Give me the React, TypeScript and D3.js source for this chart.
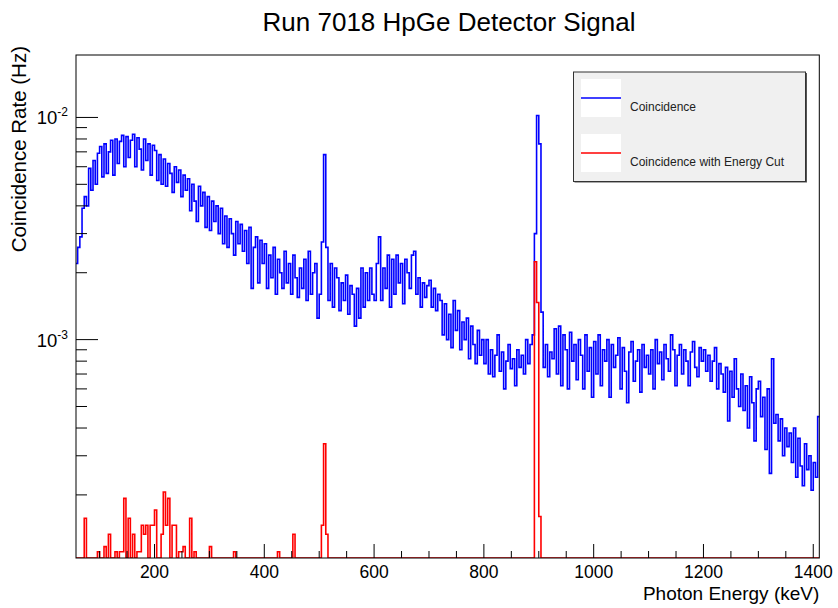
import { useEffect, useRef } from "react";
import * as d3 from "d3";

// histogram binning (keV)
const BIN_START = 56;
const BIN_WIDTH = 4;

// Coincidence rate, units of 1e-3 Hz, one array per 100 keV block
const COINC_056 = [2.2, 2.6, 2.9, 3.9, 4.4, 4.0, 5.9, 4.7, 6.4, 5.0, 6.9];
const COINC_100 = [7.4, 5.4, 7.6, 5.6, 7.0, 7.9, 5.5, 8.0, 6.2, 7.8, 8.3, 6.0, 8.2, 6.6, 7.9, 8.4, 6.0, 8.1, 7.2, 5.8, 8.0, 6.4, 7.6, 5.5, 7.5];
const COINC_200 = [7.1, 5.2, 6.8, 5.0, 6.5, 4.9, 6.2, 5.6, 4.6, 6.0, 5.1, 5.8, 4.4, 5.5, 4.7, 5.3, 3.8, 5.0, 4.2, 3.4, 4.9, 4.0, 4.6, 3.2, 4.4];
const COINC_300 = [3.1, 4.2, 3.4, 4.0, 3.0, 3.9, 2.7, 3.6, 2.6, 3.5, 3.0, 2.4, 3.4, 2.7, 3.3, 2.5, 3.1, 2.2, 3.2, 1.7, 2.6, 2.9, 1.8, 2.8, 2.2];
const COINC_400 = [2.7, 1.7, 2.4, 1.9, 2.6, 1.6, 2.3, 2.0, 1.7, 2.5, 1.8, 2.2, 1.6, 2.4, 1.9, 1.55, 2.1, 1.7, 2.3, 1.5, 2.5, 1.6, 2.0, 2.2, 1.25];
const COINC_500 = [1.6, 2.75, 6.8, 2.6, 1.5, 2.2, 1.4, 2.1, 1.9, 1.35, 1.8, 1.5, 1.95, 1.3, 1.75, 1.6, 1.15, 1.7, 1.25, 2.1, 1.4, 2.0, 1.5, 2.1, 1.6];
const COINC_600 = [1.5, 2.2, 2.9, 1.5, 2.1, 1.7, 2.4, 1.4, 2.3, 1.6, 2.4, 1.8, 2.2, 1.45, 2.3, 2.0, 1.7, 2.4, 2.5, 1.6, 1.9, 1.4, 1.8, 1.55, 1.75];
const COINC_700 = [1.85, 1.4, 1.7, 1.35, 1.6, 1.5, 1.05, 1.45, 1.0, 1.3, 0.92, 1.5, 1.1, 1.35, 0.9, 1.2, 1.0, 1.25, 0.82, 1.15, 0.95, 0.78, 1.1, 0.85, 1.0];
const COINC_800 = [0.78, 1.0, 0.7, 0.9, 0.68, 0.85, 1.05, 0.72, 0.88, 0.6, 0.8, 0.95, 0.74, 0.82, 0.62, 0.9, 0.75, 0.85, 0.7, 1.0, 0.78, 0.95, 1.05, 3.0, 10.2];
const COINC_900 = [7.6, 1.33, 0.75, 0.95, 0.68, 0.88, 0.82, 1.12, 0.7, 1.15, 0.62, 1.05, 0.9, 0.6, 1.08, 0.8, 0.95, 0.66, 1.0, 0.85, 0.6, 1.05, 0.72, 0.92, 0.55];
const COINC_1000 = [0.98, 0.7, 1.05, 0.62, 0.9, 0.8, 1.0, 0.55, 0.95, 0.75, 0.85, 1.02, 0.6, 0.92, 0.72, 0.52, 0.88, 0.98, 0.65, 0.8, 0.9, 0.58, 0.95, 0.75, 0.85];
const COINC_1100 = [0.7, 0.9, 0.6, 1.0, 0.78, 0.88, 0.66, 0.95, 0.82, 0.72, 1.05, 0.9, 0.62, 0.85, 0.95, 0.7, 0.9, 0.8, 0.62, 0.88, 0.98, 0.75, 0.68, 0.92, 0.8];
const COINC_1200 = [0.9, 0.72, 0.85, 0.65, 0.8, 0.92, 0.6, 0.78, 0.7, 0.58, 0.75, 0.43, 0.72, 0.55, 0.82, 0.6, 0.5, 0.7, 0.48, 0.62, 0.4, 0.68, 0.52, 0.35, 0.6];
const COINC_1300 = [0.65, 0.45, 0.55, 0.32, 0.6, 0.25, 0.82, 0.42, 0.46, 0.35, 0.44, 0.3, 0.4, 0.33, 0.38, 0.28, 0.4, 0.24, 0.36, 0.27, 0.22, 0.34, 0.26, 0.3, 0.21];
const COINC_1400 = [0.28, 0.24, 0.45];

// Coincidence with energy cut: only non-empty bins (bin start keV, rate 1e-3 Hz)
const CUT_BINS = [72, 96, 108, 116, 128, 136, 140, 144, 152, 160, 168, 172, 176, 180, 184, 192, 196, 200, 212, 216, 220, 224, 232, 236, 244, 248, 252, 264, 272, 300, 344, 424, 452, 504, 508, 512, 892, 896, 900];
const CUT_RATES = [0.157, 0.111, 0.117, 0.133, 0.111, 0.111, 0.111, 0.193, 0.157, 0.133, 0.111, 0.111, 0.146, 0.133, 0.146, 0.146, 0.146, 0.171, 0.133, 0.206, 0.146, 0.193, 0.146, 0.146, 0.111, 0.111, 0.117, 0.157, 0.111, 0.117, 0.111, 0.111, 0.133, 0.146, 0.34, 0.133, 2.24, 1.47, 0.16];

const X_DOMAIN = [57, 1411];
const Y_DOMAIN = [1.04e-4, 0.0191];
const X_LABELS = [200, 400, 600, 800, 1000, 1200, 1400];
const Y_DECADES = [-3, -2];

const W = 838;
const H = 608;
const m = { top: 55, right: 18.7, bottom: 50, left: 76 };
const FONT = "'Liberation Sans', Arial, Helvetica, sans-serif";

export default function App() {
  const ref = useRef<SVGSVGElement | null>(null);

  useEffect(() => {
    const svg = d3.select(ref.current);
    svg.selectAll("*").remove();

    const x = d3.scaleLinear().domain(X_DOMAIN).range([m.left, W - m.right]);
    const y = d3.scaleLog().domain(Y_DOMAIN).range([H - m.bottom, m.top]);
    const x0 = m.left, x1 = W - m.right, yb = H - m.bottom, yt = m.top;

    svg.append("rect").attr("width", W).attr("height", H).attr("fill", "#fff");

    // title
    svg.append("text").attr("x", 449).attr("y", 31).attr("text-anchor", "middle")
      .attr("font-family", FONT).attr("font-size", 26).text("Run 7018 HpGe Detector Signal");

    svg.append("defs").append("clipPath").attr("id", "frame")
      .append("rect").attr("x", x0).attr("y", yt).attr("width", x1 - x0).attr("height", yb - yt);

    const coinc = [
      ...COINC_056, ...COINC_100, ...COINC_200, ...COINC_300, ...COINC_400, ...COINC_500, ...COINC_600,
      ...COINC_700, ...COINC_800, ...COINC_900, ...COINC_1000, ...COINC_1100, ...COINC_1200, ...COINC_1300, ...COINC_1400,
    ];
    const cut = coinc.map(() => 0);
    CUT_BINS.forEach((b, i) => (cut[(b - BIN_START) / BIN_WIDTH] = CUT_RATES[i]));

    const steps = (vals: number[]) => {
      const pts: [number, number][] = vals.map((v, i) => [BIN_START + i * BIN_WIDTH, v * 1e-3]);
      pts.push([BIN_START + vals.length * BIN_WIDTH, vals[vals.length - 1] * 1e-3]);
      return pts;
    };
    const line = d3.line<[number, number]>()
      .x((d) => x(d[0]))
      .y((d) => y(Math.max(d[1], Y_DOMAIN[0])))
      .curve(d3.curveStepAfter);

    const g = svg.append("g").attr("clip-path", "url(#frame)");
    g.append("path").attr("d", line(steps(coinc))!).attr("fill", "none").attr("stroke", "#0000ff").attr("stroke-width", 1.6);
    g.append("path").attr("d", line(steps(cut))!).attr("fill", "none").attr("stroke", "#ff0000").attr("stroke-width", 1.6);

    // frame
    svg.append("rect").attr("x", x0).attr("y", yt).attr("width", x1 - x0).attr("height", yb - yt)
      .attr("fill", "none").attr("stroke", "#000").attr("stroke-width", 1);

    // x ticks
    const ax = svg.append("g").attr("stroke", "#000").attr("stroke-width", 1);
    d3.range(100, 1401, 50).forEach((e) => {
      const len = e % 200 === 0 ? 14 : 7;
      ax.append("line").attr("x1", x(e)).attr("x2", x(e)).attr("y1", yb).attr("y2", yb - len);
    });
    svg.append("g").selectAll("text").data(X_LABELS).join("text")
      .attr("x", (d) => x(d)).attr("y", yb + 20).attr("text-anchor", "middle")
      .attr("font-family", FONT).attr("font-size", 17.5).text((d) => d);
    svg.append("text").attr("x", x1).attr("y", 600).attr("text-anchor", "end")
      .attr("font-family", FONT).attr("font-size", 19).text("Photon Energy (keV)");

    // y ticks
    const minors: number[] = [];
    [-4, -3, -2].forEach((p) => d3.range(1, 10).forEach((k) => minors.push(k * 10 ** p)));
    minors.filter((v) => v >= Y_DOMAIN[0] && v <= Y_DOMAIN[1]).forEach((v) => {
      const major = Y_DECADES.some((p) => Math.abs(v - 10 ** p) < 1e-12);
      ax.append("line").attr("x1", x0).attr("x2", x0 + (major ? 22 : 11)).attr("y1", y(v)).attr("y2", y(v));
    });
    const yl = svg.append("g").attr("font-family", FONT);
    Y_DECADES.forEach((p) => {
      const t = yl.append("text").attr("x", 68).attr("y", y(10 ** p) + 7).attr("text-anchor", "end").attr("font-size", 18.5);
      t.append("tspan").text("10");
      t.append("tspan").attr("dy", -8).attr("font-size", 12).text(String(p));
    });
    svg.append("text").attr("transform", `translate(26,${yt - 9}) rotate(-90)`).attr("text-anchor", "end")
      .attr("font-family", FONT).attr("font-size", 20.5).text("Coincidence Rate (Hz)");

    // legend
    const lg = svg.append("g");
    lg.append("rect").attr("x", 574.5).attr("y", 73).attr("width", 232.5).attr("height", 109.5).attr("fill", "#555");
    lg.append("rect").attr("x", 573.5).attr("y", 72).attr("width", 232).attr("height", 109.5)
      .attr("fill", "#f0f0f0").attr("stroke", "#333").attr("stroke-width", 1);
    const entries = [
      { label: "Coincidence", color: "#0000ff", top: 79 },
      { label: "Coincidence with Energy Cut", color: "#ff0000", top: 134 },
    ];
    entries.forEach((en) => {
      lg.append("rect").attr("x", 581).attr("y", en.top).attr("width", 40).attr("height", 38).attr("fill", "#fff");
      lg.append("line").attr("x1", 581).attr("x2", 621).attr("y1", en.top + 19).attr("y2", en.top + 19)
        .attr("stroke", en.color).attr("stroke-width", 1.3);
      lg.append("text").attr("x", 630).attr("y", en.top + 32).attr("font-family", FONT).attr("font-size", 12)
        .attr("fill", "#222").text(en.label);
    });
  }, []);

  return (
    <svg ref={ref} width={W} height={H} style={{ position: "absolute", left: 0, top: 0 }} />
  );
}
